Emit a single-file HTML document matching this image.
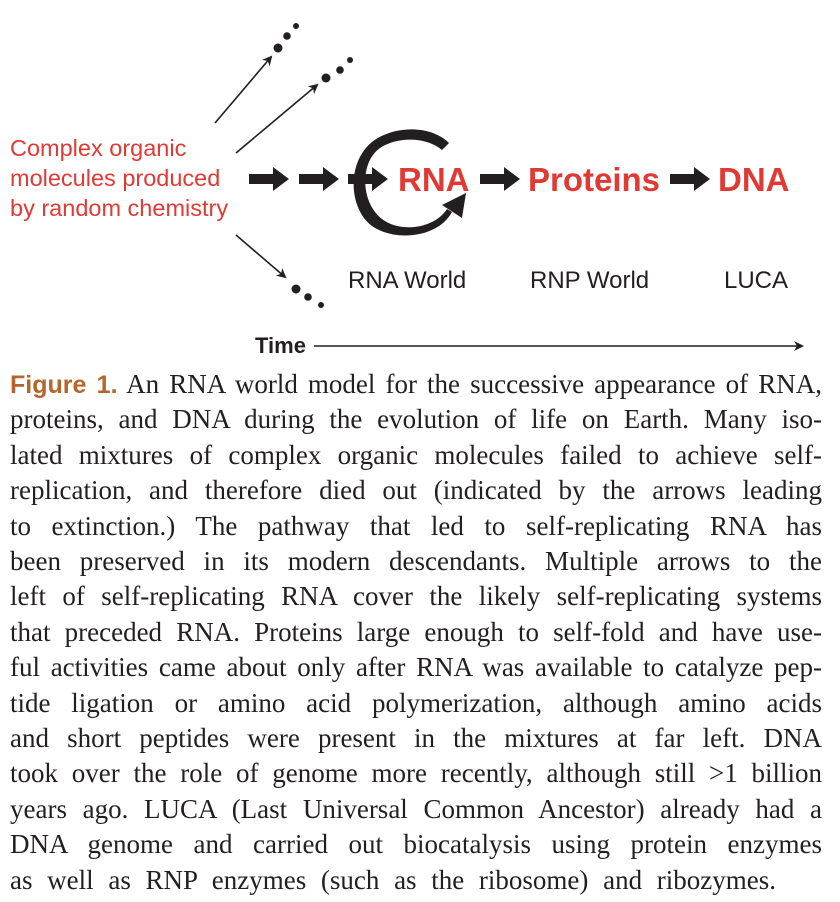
<!DOCTYPE html>
<html><head><meta charset="utf-8">
<style>
html,body{margin:0;padding:0;background:#fff;}
body{width:840px;height:902px;position:relative;overflow:hidden;font-family:"Liberation Sans",sans-serif;}
svg{position:absolute;left:0;top:0;}
.cap{position:absolute;left:10px;width:812px;font-family:"Liberation Serif",serif;font-size:27px;color:#231f20;}
.cap div{position:absolute;left:0;width:812px;white-space:nowrap;text-align:justify;text-align-last:justify;height:30px;line-height:30px;}
.cap div.last{width:766px;}
.fig{color:#b5652d;font-family:"Liberation Sans",sans-serif;font-weight:bold;font-size:25px;}
</style></head><body>
<svg width="840" height="360">
 <defs>
  <marker id="ah" markerWidth="10" markerHeight="10" refX="8" refY="5" orient="auto" markerUnits="userSpaceOnUse">
   <path d="M0,0 L10,5 L0,10 L3,5 Z" fill="#231f20"/>
  </marker>
 </defs>
 <g fill="#e03a35" font-size="23.5">
  <text x="10" y="156">Complex organic</text>
  <text x="10" y="186">molecules produced</text>
  <text x="10" y="216">by random chemistry</text>
 </g>
 <g stroke="#231f20" stroke-width="1.6" fill="none">
  <line x1="215" y1="123" x2="271" y2="57" marker-end="url(#ah)"/>
  <line x1="236" y1="153" x2="317" y2="85" marker-end="url(#ah)"/>
  <line x1="236" y1="235" x2="285" y2="277" marker-end="url(#ah)"/>
 </g>
 <g fill="#231f20">
  <circle cx="278" cy="48" r="4.5"/><circle cx="287" cy="36" r="3.8"/><circle cx="296" cy="26" r="3"/>
  <circle cx="326" cy="78" r="4.5"/><circle cx="340" cy="70" r="3.8"/><circle cx="350" cy="60" r="3"/>
  <circle cx="296" cy="289" r="4.5"/><circle cx="308" cy="297" r="3.8"/><circle cx="321" cy="305" r="3"/>
 </g>
 <g fill="#231f20">
  <path d="M249,174 h24 v-7 l16,12 l-16,12 v-7 h-24 Z"/>
  <path d="M299,174 h24 v-7 l16,12 l-16,12 v-7 h-24 Z"/>
  <path d="M348,174 h24 v-7 l16,12 l-16,12 v-7 h-24 Z"/>
  <path d="M480,174 h24 v-7 l16,12 l-16,12 v-7 h-24 Z"/>
  <path d="M670,174 h24 v-7 l16,12 l-16,12 v-7 h-24 Z"/>
 </g>
 <g fill="#231f20">
  <path d="M449,143 C430,124 392,126 372,142 C347,162 348,208 372,226 C395,242 438,238 452,212 L447,209 C434,229 400,233 382,219 C360,202 360,162 380,148 C398,136 427,137 442,150 Z"/>
  <path d="M442,205 L466,193 L462,218 Z"/>
 </g>
 <g fill="#e03a35" font-weight="bold" font-size="33">
  <text x="398" y="191">RNA</text>
  <text x="528" y="191">Proteins</text>
  <text x="718" y="191">DNA</text>
 </g>
 <g fill="#231f20" font-size="24">
  <text x="348" y="288">RNA World</text>
  <text x="530" y="288">RNP World</text>
  <text x="724" y="288">LUCA</text>
 </g>
 <text x="255" y="353" font-size="22" font-weight="bold" fill="#231f20">Time</text>
 <line x1="314" y1="346" x2="802" y2="346" stroke="#231f20" stroke-width="1.6" marker-end="url(#ah)"/>
</svg>
<div class="cap" style="top:369px;">
 <div style="top:0px"><span class="fig">Figure 1.</span> An RNA world model for the successive appearance of RNA,</div>
 <div style="top:35.4px">proteins, and DNA during the evolution of life on Earth. Many iso-</div>
 <div style="top:70.8px">lated mixtures of complex organic molecules failed to achieve self-</div>
 <div style="top:106.2px">replication, and therefore died out (indicated by the arrows leading</div>
 <div style="top:141.6px">to extinction.) The pathway that led to self-replicating RNA has</div>
 <div style="top:177px">been preserved in its modern descendants. Multiple arrows to the</div>
 <div style="top:212.4px">left of self-replicating RNA cover the likely self-replicating systems</div>
 <div style="top:247.8px">that preceded RNA. Proteins large enough to self-fold and have use-</div>
 <div style="top:283.2px">ful activities came about only after RNA was available to catalyze pep-</div>
 <div style="top:318.6px">tide ligation or amino acid polymerization, although amino acids</div>
 <div style="top:354px">and short peptides were present in the mixtures at far left. DNA</div>
 <div style="top:389.4px">took over the role of genome more recently, although still &gt;1 billion</div>
 <div style="top:424.8px">years ago. LUCA (Last Universal Common Ancestor) already had a</div>
 <div style="top:460.2px">DNA genome and carried out biocatalysis using protein enzymes</div>
 <div class="last" style="top:495.6px">as well as RNP enzymes (such as the ribosome) and ribozymes.</div>
</div>
</body></html>
